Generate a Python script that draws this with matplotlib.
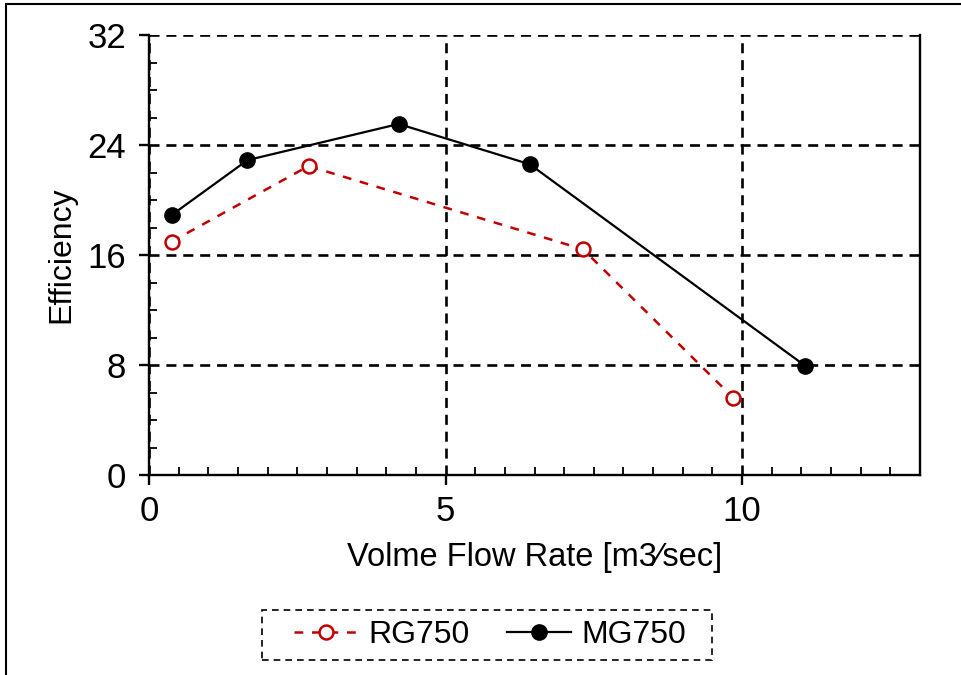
import matplotlib.pyplot as plt
from matplotlib.patches import Rectangle
from matplotlib.ticker import MultipleLocator

plt.rcParams['font.family'] = ['Liberation Sans', 'DejaVu Sans']

# data
rg_x = [0.38, 2.69, 7.32, 9.85]
rg_y = [16.97, 22.47, 16.41, 5.62]
mg_x = [0.38, 1.66, 4.21, 6.42, 11.06]
mg_y = [18.9, 22.9, 25.53, 22.6, 7.95]

fig = plt.figure(figsize=(9.62, 6.75), dpi=100)
ax = fig.add_axes([149 / 962, 200 / 675, 771 / 962, 440 / 675])

ax.plot(rg_x, rg_y, color='#C00000', linestyle=(0, (3.5, 3.5)), linewidth=1.8,
        marker='o', markersize=10, markerfacecolor='white',
        markeredgecolor='#C00000', markeredgewidth=1.8, label='RG750', zorder=4)
ax.plot(mg_x, mg_y, color='black', linewidth=1.6, marker='o', markersize=11,
        markerfacecolor='black', label='MG750', zorder=5)

ax.set_xlim(0, 13)
ax.set_ylim(0, 32)
ax.xaxis.set_major_locator(MultipleLocator(5))
ax.xaxis.set_minor_locator(MultipleLocator(0.5))
ax.yaxis.set_major_locator(MultipleLocator(8))
ax.yaxis.set_minor_locator(MultipleLocator(2))

ax.grid(True, which='major', color='black', linestyle=(0, (3.8, 2.6)), linewidth=1.9)
ax.spines['top'].set_visible(False)
for s in ['left', 'bottom', 'right']:
    ax.spines[s].set_linewidth(1.7)

ax.tick_params(which='major', direction='out', length=7.5, width=1.7, labelsize=25)
ax.tick_params(axis='y', which='major', pad=9)
ax.tick_params(axis='x', which='major', pad=7)
ax.tick_params(which='minor', direction='in', length=5.5, width=1.3)
ax.tick_params(axis='x', which='minor', top=False)
ax.tick_params(axis='y', which='minor', right=False)

ax.set_xlabel('Volme Flow Rate [m3\u2044sec]', fontsize=23.5, labelpad=10)
ax.set_ylabel('Efficiency', fontsize=23, labelpad=8)

leg = ax.legend(loc='center', bbox_to_anchor=(490 / 962, 1 - 635 / 675),
                bbox_transform=fig.transFigure, ncol=2, fontsize=23,
                frameon=False, handlelength=2.0,
                columnspacing=1.15, handletextpad=0.35, borderpad=0.3)

# dashed legend box
fig.patches.append(Rectangle((262 / 962, 1 - 660 / 675), 450 / 962, 50 / 675,
                             transform=fig.transFigure, fill=False,
                             edgecolor='black', linewidth=1.2,
                             linestyle=(0, (4, 3))))

# outer frame
fig.patches.append(Rectangle((6 / 962, -0.05), 1.2, 1.05 - 4 / 675,
                             transform=fig.transFigure, fill=False,
                             edgecolor='black', linewidth=1.5))

fig.savefig('out.png', dpi=100)
